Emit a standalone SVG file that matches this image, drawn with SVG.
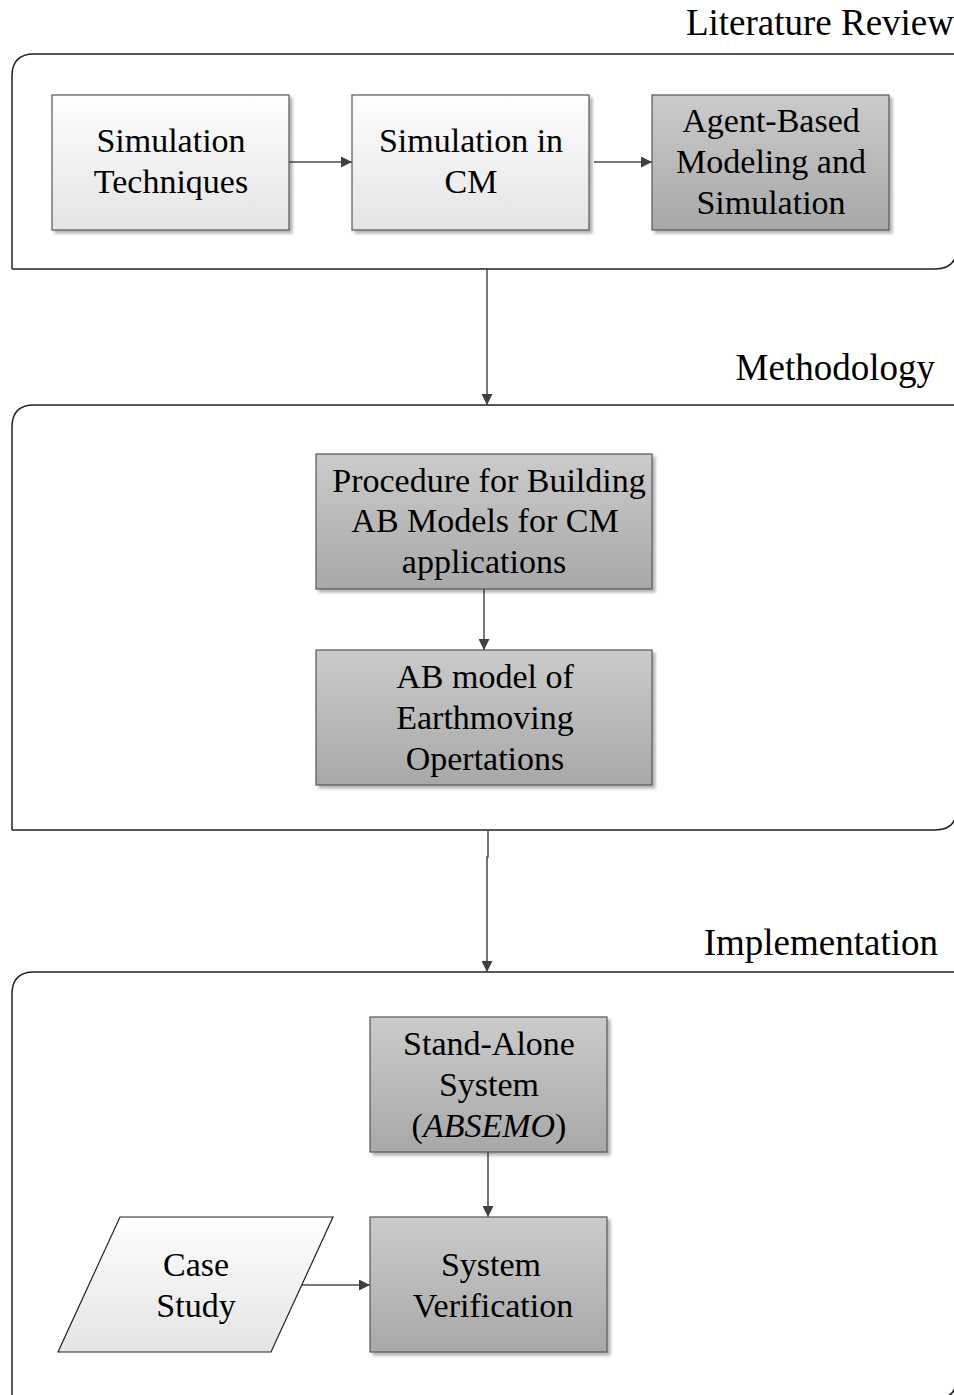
<svg xmlns="http://www.w3.org/2000/svg" width="954" height="1395" viewBox="0 0 954 1395">
  <defs>
    <linearGradient id="lightFill" x1="0" y1="0" x2="0" y2="1">
      <stop offset="0" stop-color="#fefefe"/>
      <stop offset="1" stop-color="#e4e4e4"/>
    </linearGradient>
    <linearGradient id="darkFill" x1="0" y1="0" x2="0" y2="1">
      <stop offset="0" stop-color="#cbcbcb"/>
      <stop offset="1" stop-color="#a8a8a8"/>
    </linearGradient>
    <filter id="shadow" x="-10%" y="-10%" width="130%" height="130%">
      <feGaussianBlur in="SourceAlpha" stdDeviation="1.5"/>
      <feOffset dx="3" dy="3" result="off"/>
      <feComponentTransfer><feFuncA type="linear" slope="0.3"/></feComponentTransfer>
      <feMerge><feMergeNode/><feMergeNode in="SourceGraphic"/></feMerge>
    </filter>
    <marker id="arrow" viewBox="0 0 10 10" refX="10" refY="5" markerWidth="11" markerHeight="11" markerUnits="userSpaceOnUse" orient="auto">
      <path d="M0,0 L10,5 L0,10 Z" fill="#404040"/>
    </marker>
  </defs>
  <style>
    .frame { fill: none; stroke: #222; stroke-width: 1.5; }
    .box { stroke: #555; stroke-width: 1.2; filter: url(#shadow); }
    .light { fill: url(#lightFill); }
    .dark { fill: url(#darkFill); }
    .label { font-family: "Liberation Serif", "Times New Roman", serif; font-size: 34px; fill: #000; text-anchor: middle; }
    .title { font-family: "Liberation Serif", "Times New Roman", serif; font-size: 37px; fill: #000; text-anchor: end; }
    .conn { fill: none; stroke: #4a4a4a; stroke-width: 1.5; marker-end: url(#arrow); }
  </style>
  <rect width="954" height="1395" fill="#ffffff"/>

  <!-- stage frames -->
  <g id="stage-literature">
    <path class="frame" d="M12,269 V76 Q12,54 34,54 H980 M12,269 H935 Q957,269 957,247 V240"/>
    <text class="title" x="954" y="35">Literature Review</text>
  </g>
  <g id="stage-methodology">
    <path class="frame" d="M12,830 V427 Q12,405 34,405 H980 M12,830 H935 Q957,830 957,808 V800"/>
    <text class="title" x="935" y="380">Methodology</text>
  </g>
  <g id="stage-implementation">
    <path class="frame" d="M12,1405 V994 Q12,972 34,972 H980 M12,1399 H935 Q957,1399 957,1377"/>
    <text class="title" x="938" y="955">Implementation</text>
  </g>

  <!-- connectors -->
  <g id="connectors">
    <path class="conn" d="M289,162 H352"/>
    <path class="conn" d="M594,162 H652"/>
    <path class="conn" d="M487,269 V405"/>
    <path class="conn" d="M484,589 V650"/>
    <path class="conn" d="M488,830 V857 H487 V972"/>
    <path class="conn" d="M488,1152 V1217"/>
    <path class="conn" d="M301,1285 H370"/>
  </g>

  <!-- nodes -->
  <g id="simulation-techniques">
    <rect class="box light" x="52" y="95" width="237" height="135"/>
    <text class="label" x="171" y="152">Simulation</text>
    <text class="label" x="171" y="193">Techniques</text>
  </g>
  <g id="simulation-in-cm">
    <rect class="box light" x="352" y="95" width="237" height="135"/>
    <text class="label" x="471" y="152">Simulation in</text>
    <text class="label" x="471" y="193">CM</text>
  </g>
  <g id="agent-based-modeling">
    <rect class="box dark" x="652" y="95" width="237" height="135"/>
    <text class="label" x="771" y="132">Agent-Based</text>
    <text class="label" x="771" y="173">Modeling and</text>
    <text class="label" x="771" y="214">Simulation</text>
  </g>
  <g id="procedure">
    <rect class="box dark" x="316" y="454" width="336" height="135"/>
    <text class="label" x="489" y="492">Procedure for Building</text>
    <text class="label" x="485" y="532">AB Models for CM</text>
    <text class="label" x="484" y="573">applications</text>
  </g>
  <g id="ab-model">
    <rect class="box dark" x="316" y="650" width="336" height="135"/>
    <text class="label" x="485" y="688">AB model of</text>
    <text class="label" x="485" y="729">Earthmoving</text>
    <text class="label" x="485" y="770">Opertations</text>
  </g>
  <g id="stand-alone-system">
    <rect class="box dark" x="370" y="1017" width="237" height="135"/>
    <text class="label" x="489" y="1055">Stand-Alone</text>
    <text class="label" x="489" y="1096">System</text>
    <text class="label" x="489" y="1137">(<tspan font-style="italic">ABSEMO</tspan>)</text>
  </g>
  <g id="system-verification">
    <rect class="box dark" x="370" y="1217" width="237" height="135"/>
    <text class="label" x="491" y="1276">System</text>
    <text class="label" x="493" y="1317">Verification</text>
  </g>
  <g id="case-study">
    <path d="M120,1217 H333 L271,1352 H58 Z" fill="url(#lightFill)" stroke="#222" stroke-width="1.2"/>
    <text class="label" x="196" y="1276">Case</text>
    <text class="label" x="196" y="1317">Study</text>
  </g>
</svg>
